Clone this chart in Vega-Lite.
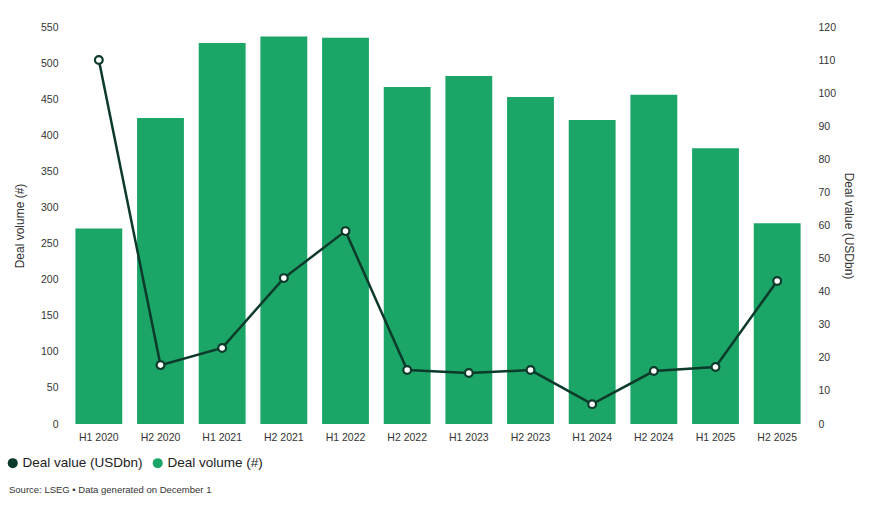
{
  "$schema": "https://vega.github.io/schema/vega-lite/v6.json",
  "width": 740,
  "height": 397,
  "autosize": {"type": "none"},
  "padding": {"left": 68, "top": 27, "right": 62, "bottom": 88},
  "background": "white",
  "config": {
    "font": "Liberation Sans",
    "view": {"stroke": null},
    "axis": {"grid": false, "domain": false, "ticks": false, "labelColor": "#333333", "titleColor": "#333333", "labelFontSize": 10.5, "titleFontSize": 12, "titleFontWeight": "normal", "labelFont": "Liberation Sans", "titleFont": "Liberation Sans"}
  },
  "title": {
    "text": "Source: LSEG • Data generated on December 1",
    "orient": "bottom",
    "anchor": "start",
    "frame": "group",
    "fontSize": 9.5,
    "fontWeight": "normal",
    "color": "#333333",
    "dx": -59,
    "offset": 15
  },
  "data": {
    "values": [
      {"period": "H1 2020", "volume": 271, "value": 110},
      {"period": "H2 2020", "volume": 424, "value": 17.8},
      {"period": "H1 2021", "volume": 528, "value": 23},
      {"period": "H2 2021", "volume": 537, "value": 44.1},
      {"period": "H1 2022", "volume": 535, "value": 58.3},
      {"period": "H2 2022", "volume": 467, "value": 16.3},
      {"period": "H1 2023", "volume": 482, "value": 15.4},
      {"period": "H2 2023", "volume": 453, "value": 16.3},
      {"period": "H1 2024", "volume": 421, "value": 6},
      {"period": "H2 2024", "volume": 456, "value": 16},
      {"period": "H1 2025", "volume": 382, "value": 17.2},
      {"period": "H2 2025", "volume": 278, "value": 43.2}
    ]
  },
  "encoding": {
    "x": {
      "field": "period",
      "type": "nominal",
      "sort": null,
      "scale": {"paddingInner": 0.24, "paddingOuter": 0.12},
      "axis": {"title": null, "labelAngle": 0, "labelPadding": 8}
    }
  },
  "layer": [
    {
      "mark": {"type": "bar"},
      "encoding": {
        "y": {
          "field": "volume",
          "type": "quantitative",
          "scale": {"domain": [0, 550], "nice": false},
          "axis": {"title": "Deal volume (#)", "values": [0,50,100,150,200,250,300,350,400,450,500,550], "labelPadding": 10, "titlePadding": 14}
        },
        "color": {
          "datum": "Deal volume (#)",
          "type": "nominal",
          "scale": {"domain": ["Deal value (USDbn)", "Deal volume (#)"], "range": ["#0c3a2b", "#1ba566"]},
          "legend": {
            "title": null,
            "orient": "none",
            "direction": "horizontal",
            "legendX": -62,
            "legendY": 429,
            "symbolType": "circle",
            "symbolSize": 100,
            "labelFontSize": 13.5,
            "labelColor": "#222222",
            "labelFont": "Liberation Sans",
            "columnPadding": 8,
            "labelOffset": 3,
            "encode": {"symbols": {"update": {"fill": {"scale": "color", "field": "value"}, "strokeWidth": {"value": 0}, "opacity": {"value": 1}}}}
          }
        }
      }
    },
    {
      "mark": {"type": "line", "strokeWidth": 2.5, "point": {"filled": false, "fill": "white", "size": 60, "strokeWidth": 2.2, "opacity": 1}},
      "encoding": {
        "y": {
          "field": "value",
          "type": "quantitative",
          "scale": {"domain": [0, 120], "nice": false},
          "axis": {"title": "Deal value (USDbn)", "orient": "right", "values": [0,10,20,30,40,50,60,70,80,90,100,110,120], "labelPadding": 10, "titlePadding": 6}
        },
        "color": {"datum": "Deal value (USDbn)", "type": "nominal"}
      }
    }
  ],
  "resolve": {"scale": {"y": "independent"}}
}
